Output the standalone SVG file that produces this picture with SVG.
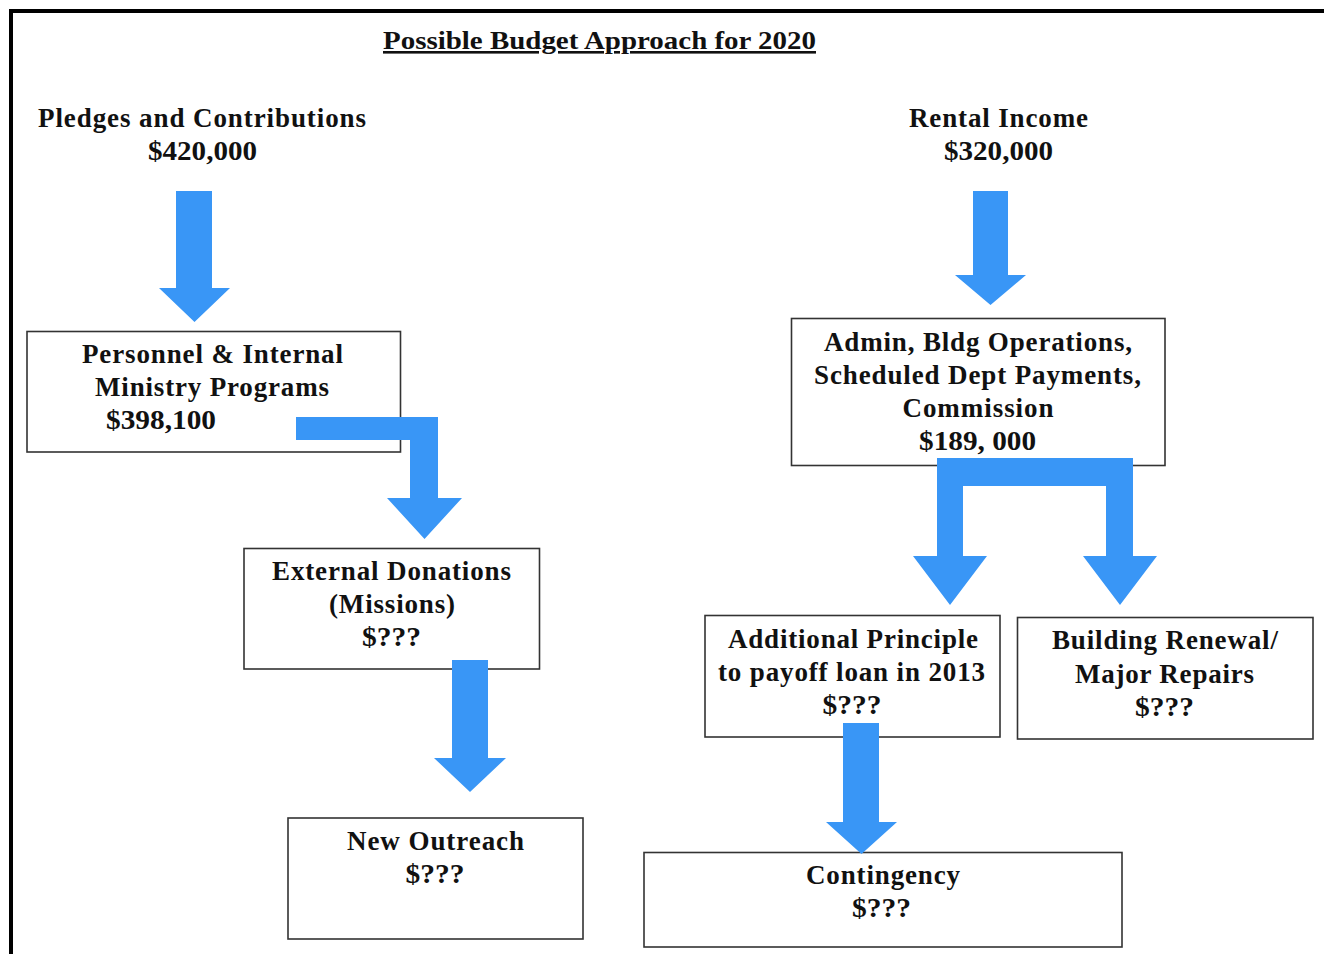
<svg xmlns="http://www.w3.org/2000/svg" width="1324" height="954" viewBox="0 0 1324 954">
<style>
  text { font-family: "Liberation Serif", "Times New Roman", serif; font-weight: bold; font-size: 27px; fill: #111; text-anchor: middle; }
  .box { fill: #fff; stroke: #333; stroke-width: 1.6; }
  .arrow { fill: #3996f6; stroke: none; }
  .title { text-decoration: underline; font-size: 26px; }
</style>
<rect x="0" y="0" width="1324" height="954" fill="#fff"/>
<path d="M11 954 V11 H1324" fill="none" stroke="#000" stroke-width="4"/>

<text class="title" x="599.5" y="49" textLength="433" lengthAdjust="spacingAndGlyphs">Possible Budget Approach for 2020</text>

<g id="pledges">
  <text x="202" y="127" textLength="328" lengthAdjust="spacing">Pledges and Contributions</text>
  <text x="202.5" y="160" textLength="109" lengthAdjust="spacingAndGlyphs">$420,000</text>
</g>
<g id="rental">
  <text x="998.5" y="127" textLength="179" lengthAdjust="spacing">Rental Income</text>
  <text x="998.5" y="160" textLength="109" lengthAdjust="spacingAndGlyphs">$320,000</text>
</g>

<g id="personnel">
  <rect class="box" x="27" y="331.5" width="373.5" height="120.5"/>
  <text x="212.5" y="363" textLength="261" lengthAdjust="spacing">Personnel &amp; Internal</text>
  <text x="212" y="396" textLength="234" lengthAdjust="spacing">Ministry Programs</text>
  <text x="161" y="429" textLength="110" lengthAdjust="spacingAndGlyphs">$398,100</text>
</g>

<g id="admin">
  <rect class="box" x="791.5" y="318.5" width="373.5" height="147"/>
  <text x="978" y="351" textLength="308" lengthAdjust="spacing">Admin, Bldg Operations,</text>
  <text x="977.5" y="384" textLength="327" lengthAdjust="spacing">Scheduled Dept Payments,</text>
  <text x="978" y="417" textLength="151" lengthAdjust="spacing">Commission</text>
  <text x="977.5" y="450" textLength="117" lengthAdjust="spacingAndGlyphs">$189, 000</text>
</g>

<g id="external">
  <rect class="box" x="244" y="548.5" width="295.5" height="120.5"/>
  <text x="391.5" y="580" textLength="239" lengthAdjust="spacing">External Donations</text>
  <text x="392" y="613" textLength="126" lengthAdjust="spacing">(Missions)</text>
  <text x="391.5" y="646" textLength="59" lengthAdjust="spacingAndGlyphs">$???</text>
</g>

<g id="additional">
  <rect class="box" x="705" y="615.5" width="295" height="121.5"/>
  <text x="853" y="648" textLength="250" lengthAdjust="spacing">Additional Principle</text>
  <text x="851.5" y="681" textLength="267" lengthAdjust="spacing">to payoff loan in 2013</text>
  <text x="852" y="714" textLength="59" lengthAdjust="spacingAndGlyphs">$???</text>
</g>

<g id="building">
  <rect class="box" x="1017.5" y="617.5" width="295.5" height="121.5"/>
  <text x="1165" y="649" textLength="226" lengthAdjust="spacing">Building Renewal/</text>
  <text x="1164.5" y="683" textLength="179" lengthAdjust="spacing">Major Repairs</text>
  <text x="1164.5" y="716" textLength="59" lengthAdjust="spacingAndGlyphs">$???</text>
</g>

<g id="outreach">
  <rect class="box" x="288" y="818" width="295" height="121"/>
  <text x="435.5" y="850" textLength="177" lengthAdjust="spacing">New Outreach</text>
  <text x="435" y="883" textLength="59" lengthAdjust="spacingAndGlyphs">$???</text>
</g>

<g id="contingency">
  <rect class="box" x="644" y="852.5" width="478" height="94.5"/>
  <text x="883" y="884" textLength="154" lengthAdjust="spacing">Contingency</text>
  <text x="881.5" y="917" textLength="59" lengthAdjust="spacingAndGlyphs">$???</text>
</g>

<g id="connectors">
  <polygon class="arrow" points="176,191 212,191 212,288 230,288 194.5,322 159,288 176,288"/>
  <polygon class="arrow" points="973,191 1008,191 1008,275 1026,275 990.5,305 955,275 973,275"/>
  <polygon class="arrow" points="296,417 438,417 438,498 462,498 424.5,539 387,498 410,498 410,440 296,440"/>
  <polygon class="arrow" points="452,660 488,660 488,758 506,758 470,792 434,758 452,758"/>
  <polygon class="arrow" points="937,458 1133,458 1133,556 1157,556 1120,605 1083,556 1106,556 1106,486 963,486 963,556 987,556 950,605 913,556 937,556"/>
  <polygon class="arrow" points="843,723 879,723 879,822 897,822 861.5,854 826,822 843,822"/>
</g>
</svg>
